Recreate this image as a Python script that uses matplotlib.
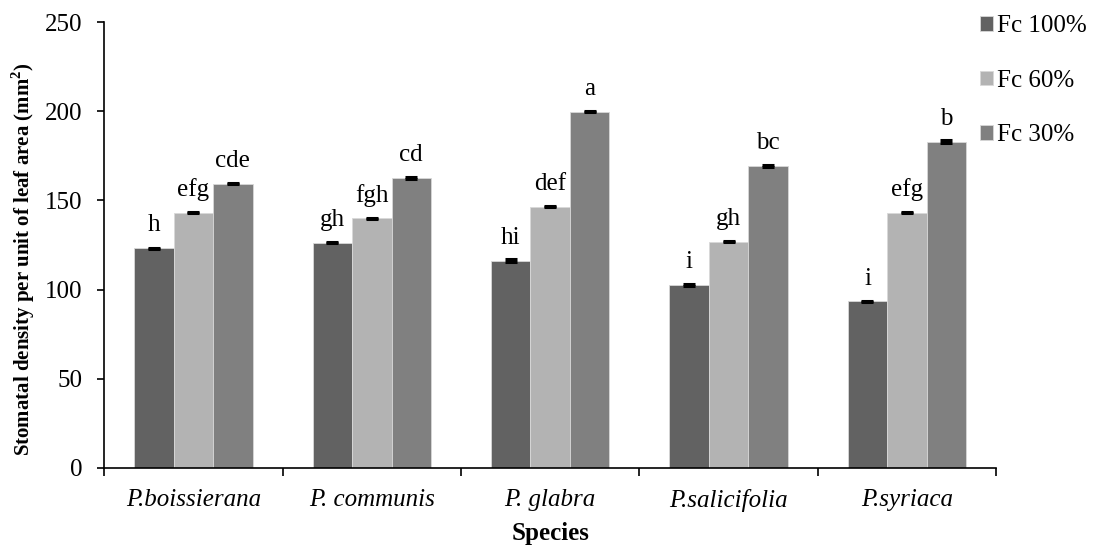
import numpy as np
import matplotlib.pyplot as plt

species = ["P.boissierana", "P. communis", "P. glabra", "P.salicifolia", "P.syriaca"]
treatments = ["Fc 100%", "Fc 60%", "Fc 30%"]

fc100 = [123.1, 126.3, 116.2, 102.6, 93.3]
fc60 = [143.2, 139.9, 146.6, 126.9, 143.1]
fc30 = [159.4, 162.7, 199.8, 169.4, 183.0]

err100 = [0.4, 0.4, 1.0, 0.4, 0.4]
err60 = [0.4, 0.4, 0.4, 0.4, 0.4]
err30 = [0.4, 0.4, 0.4, 0.4, 1.0]

letters100 = ["h", "gh", "hi", "i", "i"]
letters60 = ["efg", "fgh", "def", "gh", "efg"]
letters30 = ["cde", "cd", "a", "bc", "b"]

colors = ["#626262", "#b3b3b3", "#808080"]

plt.rcParams["font.family"] = ["Liberation Serif", "DejaVu Serif"]

fig = plt.figure(figsize=(10.93, 5.45), dpi=100)
ax = fig.add_axes([0.0954, 0.1418, 0.8159, 0.8173])

x = np.arange(len(species))
width = 0.221
series = [(fc100, err100, letters100), (fc60, err60, letters60), (fc30, err30, letters30)]

for i, (vals, errs, letters) in enumerate(series):
    pos = x + (i - 1) * width
    ax.bar(pos, vals, width, color=colors[i], label=treatments[i],
           edgecolor="#d8d8d8", linewidth=0.6,
           yerr=errs, capsize=4.5,
           error_kw={"elinewidth": 1.2, "capthick": 2.2, "ecolor": "black"})
    for p, v, t in zip(pos, vals, letters):
        ax.text(p, v + 9.5, t, ha="center", va="baseline", fontsize=18)

ax.set_xlim(-0.5, len(species) - 0.5)
ax.set_ylim(0, 250)
ax.set_yticks(np.arange(0, 251, 50))
ax.tick_params(axis="y", labelsize=18, length=5, width=1.2, direction="out", pad=11)

ax.set_xticks(np.arange(-0.5, len(species)), labels=[""] * (len(species) + 1))
ax.set_xticks(x, minor=True)
ax.set_xticklabels(species, minor=True, fontstyle="italic", fontsize=18)
ax.tick_params(axis="x", which="major", length=6, width=1.2, direction="out")
ax.tick_params(axis="x", which="minor", length=0, pad=15)

for side in ["top", "right"]:
    ax.spines[side].set_visible(False)
for side in ["left", "bottom"]:
    ax.spines[side].set_linewidth(1.2)

ax.set_ylabel("Stomatal density per unit of leaf area (mm$^\\mathregular{2}$)",
              fontsize=15, fontweight="bold")
ax.yaxis.set_label_coords(-0.0755, 0.469)
ax.set_xlabel("Species", fontsize=18, fontweight="bold")
ax.xaxis.set_label_coords(0.5, -0.122)

handles, labels = ax.get_legend_handles_labels()
fig.legend(handles, labels, loc="upper left", bbox_to_anchor=(0.897, 0.972),
           frameon=False, fontsize=18, handlelength=0.52, handleheight=0.52,
           handletextpad=0.15, labelspacing=1.3, borderpad=0, borderaxespad=0)

fig.savefig("out.png", dpi=100)
